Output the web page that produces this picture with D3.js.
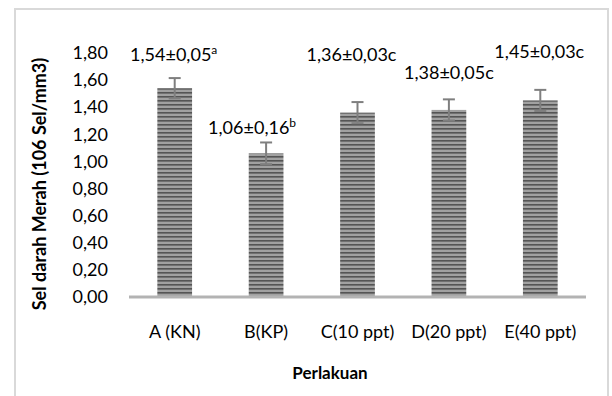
<!DOCTYPE html>
<html>
<head>
<meta charset="utf-8">
<title>Sel darah Merah</title>
<style>
    body { margin: 0; background: #fff; }
    .axis text { font-family: Lato, "Open Sans", sans-serif; font-size: 18px; fill: #000; }
    .axis path, .axis line { display: none; }
    .title { font-family: Lato, "Open Sans", sans-serif; font-size: 17px; font-weight: bold; fill: #000; }
    .ytitle { font-size: 18px; }
    .vlabel { font-family: Lato, "Open Sans", sans-serif; font-size: 18px; fill: #000; }
</style>
</head>
<body>
<script src="https://cdn.jsdelivr.net/npm/d3@7"></script>
<script>
    /*===== DATA =====*/
    var categories = ["A (KN)", "B(KP)", "C(10 ppt)", "D(20 ppt)", "E(40 ppt)"];
    var values = [1.54, 1.06, 1.36, 1.38, 1.45];
    var errors = [0.075, 0.08, 0.078, 0.078, 0.078];   // drawn error bars
    var labelMain = ["1,54±0,05", "1,06±0,16", "1,36±0,03c", "1,38±0,05c", "1,45±0,03c"];
    var labelSup = ["a", "b", "", "", ""];
    var yTicks = [0, 0.2, 0.4, 0.6, 0.8, 1.0, 1.2, 1.4, 1.6, 1.8];

    // label placement (manually dragged in the original)
    var labelDx = [-1, -14, -6, 0, -1];
    var labelY = [61, 134, 61, 79, 58];

    /*===== SIZE =====*/
    var W = 612, H = 396;
    var plotL = 129, plotR = 586, plotT = 53, plotB = 297;

    var locale = d3.formatLocale({ decimal: ",", thousands: ".", grouping: [3], currency: ["", ""] });
    var fmt = locale.format(".2f");

    var x = d3.scaleBand().domain(categories).range([plotL, plotR]).paddingInner(0.62).paddingOuter(0.31);
    var y = d3.scaleLinear().domain([0, 1.8]).range([plotB, plotT]);

    var svg = d3.select("body").append("svg").attr("width", W).attr("height", H);

    // stripe pattern for bars
    var defs = svg.append("defs");
    var pat = defs.append("pattern").attr("id", "stripes")
        .attr("patternUnits", "userSpaceOnUse").attr("width", 8).attr("height", 4);
    pat.append("rect").attr("width", 8).attr("height", 4).attr("fill", "#8e8e8e");
    pat.append("rect").attr("y", 0).attr("width", 8).attr("height", 1.5).attr("fill", "#555");
    pat.append("rect").attr("y", 2.5).attr("width", 8).attr("height", 1).attr("fill", "#b4b4b4");

    // chart frame
    svg.append("rect").attr("x", 15).attr("y", 9).attr("width", 593).attr("height", 400)
        .attr("fill", "none").attr("stroke", "#d9d9d9").attr("stroke-width", 2);

    // bars
    svg.selectAll(".bar").data(values).enter().append("rect")
        .attr("class", "bar")
        .attr("x", (d, i) => x(categories[i]))
        .attr("width", x.bandwidth())
        .attr("y", d => y(d))
        .attr("height", d => y(0) - y(d))
        .attr("fill", "url(#stripes)");

    // error bars
    var eb = svg.append("g").attr("stroke", "#7f7f7f").attr("stroke-width", 2);
    values.forEach(function (v, i) {
        var cx = x(categories[i]) + x.bandwidth() / 2;
        var y1 = y(v + errors[i]), y2 = y(v - errors[i]);
        eb.append("line").attr("x1", cx).attr("x2", cx).attr("y1", y1).attr("y2", y2);
        eb.append("line").attr("x1", cx - 6).attr("x2", cx + 6).attr("y1", y1).attr("y2", y1);
        eb.append("line").attr("x1", cx - 6).attr("x2", cx + 6).attr("y1", y2).attr("y2", y2);
    });

    // baseline
    svg.append("line").attr("x1", plotL).attr("x2", plotR).attr("y1", y(0)).attr("y2", y(0))
        .attr("stroke", "#b3b3b3").attr("stroke-width", 3);

    // axes
    svg.append("g").attr("class", "axis")
        .attr("transform", "translate(" + (plotL - 21) + ",0)")
        .call(d3.axisLeft(y).tickValues(yTicks).tickFormat(fmt).tickSize(0).tickPadding(0));

    svg.append("g").attr("class", "axis")
        .attr("transform", "translate(0," + (plotB + 28) + ")")
        .call(d3.axisBottom(x).tickSize(0).tickPadding(0));

    // value labels
    values.forEach(function (v, i) {
        var t = svg.append("text").attr("class", "vlabel")
            .attr("x", x(categories[i]) + x.bandwidth() / 2 + labelDx[i])
            .attr("y", labelY[i])
            .attr("text-anchor", "middle");
        t.append("tspan").text(labelMain[i]);
        if (labelSup[i]) {
            t.append("tspan").attr("dy", -7).attr("font-size", 12).text(labelSup[i]);
        }
    });

    // axis titles
    svg.append("text").attr("class", "title")
        .attr("x", 330).attr("y", 379)
        .attr("text-anchor", "middle").text("Perlakuan");

    svg.append("text").attr("class", "title ytitle")
        .attr("transform", "translate(46,184) rotate(-90)")
        .attr("text-anchor", "middle").text("Sel darah Merah (106 Sel/mm3)");
</script>
</body>
</html>
